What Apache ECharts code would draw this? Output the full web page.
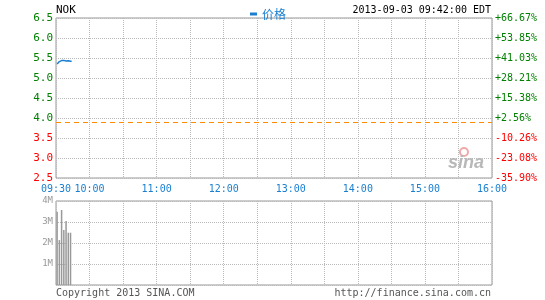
<!DOCTYPE html>
<html><head><meta charset="utf-8">
<script src="https://cdn.jsdelivr.net/npm/echarts@6/dist/echarts.min.js"></script>
<style>html,body{margin:0;padding:0;background:#fff}#c{width:545px;height:300px}</style>
</head><body><div id="c"></div>
<script>
const symbolName = 'NOK';
const timeStamp = '2013-09-03 09:42:00 EDT';
const prevClose = 3.90;
const priceMinutes = [1,2,3,4,5,6,7,8,9,10,11,12,13,14];
const priceValues = [5.35,5.38,5.41,5.43,5.435,5.44,5.44,5.435,5.425,5.42,5.43,5.43,5.42,5.42];
const volMinutes = [1,3,5,7,9,11,13];
const volValues = [3.49e6,2.14e6,3.57e6,2.62e6,3.05e6,2.49e6,2.49e6];
const timeLabels = {0:'09:30',30:'10:00',90:'11:00',150:'12:00',210:'13:00',270:'14:00',330:'15:00',390:'16:00'};

const mono = 'DejaVu Sans Mono';
const green = '#008000', red = '#ff0000', blue = '#1a7fd0';
const chart = echarts.init(document.getElementById('c'));
const pct = v => { const p = (v / prevClose - 1) * 100; return (p >= 0 ? '+' : '') + p.toFixed(2) + '%'; };
const splitDotted = {show:true, lineStyle:{type:'dotted', color:'#bbb', width:1}};
chart.setOption({
  animation:false,
  legend:{top:3, left:245, data:[{name:'价格', icon:'rect'}], itemWidth:7, itemHeight:3, itemGap:4,
    textStyle:{color:blue, fontSize:12, fontFamily:'Noto Sans CJK SC'}},
  graphic:[
    {type:'text', left:56, top:5, style:{text:symbolName, fill:'#000', font:'11px ' + mono}},
    {type:'text', right:54, top:5, style:{text:timeStamp, fill:'#000', font:'10px ' + mono}},
    {type:'text', left:56, top:288, style:{text:'Copyright 2013 SINA.COM', fill:'#555', font:'10px ' + mono}},
    {type:'text', right:54, top:288, style:{text:'http://finance.sina.com.cn', fill:'#555', font:'10px ' + mono}},
    {type:'circle', shape:{cx:464, cy:152, r:4}, style:{fill:'none', stroke:'#f0a8a8', lineWidth:2}},
    {type:'text', left:448, top:154, style:{text:'sina', fill:'#b8b8b8', font:'italic bold 18px Liberation Sans'}}
  ],
  grid:[
    {left:56, top:18, width:436, height:160, show:true, borderColor:'#999', borderWidth:1},
    {left:56, top:201, width:436, height:84, show:true, borderColor:'#999', borderWidth:1}
  ],
  xAxis:[
    {type:'value', gridIndex:0, min:0, max:390, interval:30,
      axisLine:{show:false}, axisTick:{show:false}, splitLine:splitDotted,
      axisLabel:{margin:6, color:blue, fontFamily:mono, fontSize:10, showMinLabel:true, showMaxLabel:true,
        formatter:v => timeLabels[v] || ''}},
    {type:'value', gridIndex:1, min:0, max:390, interval:30,
      axisLine:{show:false}, axisTick:{show:false}, splitLine:splitDotted, axisLabel:{show:false}}
  ],
  yAxis:[
    {type:'value', gridIndex:0, min:2.5, max:6.5, interval:0.5,
      axisLine:{show:false}, axisTick:{show:false}, splitLine:splitDotted,
      axisLabel:{margin:3, fontFamily:mono, fontSize:11,
        formatter:v => (v >= prevClose ? '{g|' : '{r|') + v.toFixed(1) + '}',
        rich:{g:{color:green, fontFamily:mono, fontSize:11}, r:{color:red, fontFamily:mono, fontSize:11}}}},
    {type:'value', gridIndex:0, position:'right', min:2.5, max:6.5, interval:0.5,
      axisLine:{show:false}, axisTick:{show:false}, splitLine:{show:false},
      axisLabel:{margin:3, fontFamily:mono, fontSize:10,
        formatter:v => (v >= prevClose ? '{g|' : '{r|') + pct(v) + '}',
        rich:{g:{color:green, fontFamily:mono, fontSize:10}, r:{color:red, fontFamily:mono, fontSize:10}}}},
    {type:'value', gridIndex:1, min:0, max:4e6, interval:1e6,
      axisLine:{show:false}, axisTick:{show:false}, splitLine:splitDotted,
      axisLabel:{margin:3, color:'#999', fontFamily:mono, fontSize:9,
        formatter:v => v === 0 ? '' : (v / 1e6) + 'M'}}
  ],
  series:[
    {name:'价格', type:'line', xAxisIndex:0, yAxisIndex:0, symbol:'none',
      lineStyle:{color:blue, width:1.5}, itemStyle:{color:blue},
      data:priceMinutes.map((m, i) => [m, priceValues[i]]),
      markLine:{silent:true, symbol:'none', label:{show:false},
        lineStyle:{color:'#ff8c00', type:[5,4], width:1.2},
        data:[{yAxis:prevClose}]}},
    {name:'成交量', type:'bar', xAxisIndex:1, yAxisIndex:2, barWidth:1.5,
      itemStyle:{color:'#999'},
      data:volMinutes.map((m, i) => [m, volValues[i]])}
  ]
});
</script></body></html>
